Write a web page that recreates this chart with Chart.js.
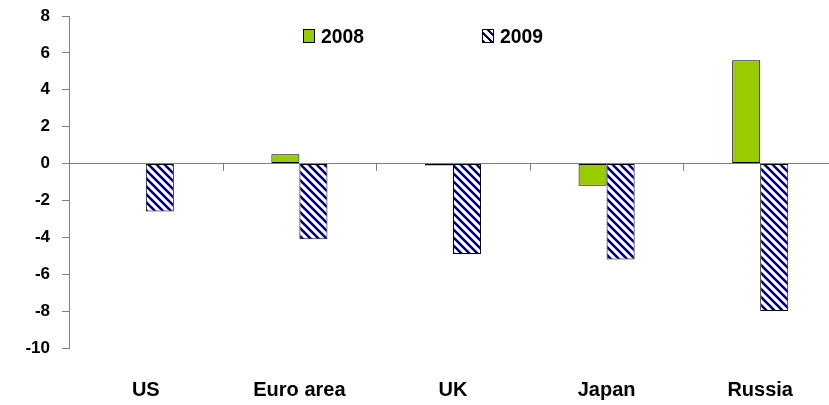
<!DOCTYPE html>
<html><head><meta charset="utf-8">
<script src="https://cdn.jsdelivr.net/npm/chart.js@4.4.0/dist/chart.umd.min.js"></script>
<style>
html,body{margin:0;padding:0;background:#fff;overflow:hidden;}
#wrap{position:relative;width:840px;height:405px;}
.item{position:absolute;font-family:'Liberation Sans',Arial,sans-serif;font-weight:bold;font-size:21px;color:#000;line-height:21px;white-space:nowrap;transform:scaleX(0.92);transform-origin:left center;}
.sw{position:absolute;width:12px;height:14px;border:1px solid #000;box-sizing:border-box;}
</style></head>
<body><div id="wrap"><canvas id="c" width="840" height="405" style="width:840px;height:405px;display:block"></canvas>
<div class="sw" style="left:303px;top:29px;background:#99CC00"></div>
<div class="item" style="left:321px;top:25px">2008</div>
<div class="sw" style="left:482px;top:29px;background:repeating-linear-gradient(45deg,#000080 0 2px,#fff 2px 5.6px)"></div>
<div class="item" style="left:500px;top:25px">2009</div>
</div>
<script>
const categories = ['US', 'Euro area', 'UK', 'Japan', 'Russia'];
const series2008 = [null, 0.5, -0.1, -1.2, 5.6];
const series2009 = [-2.6, -4.1, -4.9, -5.2, -8.0];
const yMin = -10, yMax = 8, yStep = 2;

const FONT = "'Liberation Sans',Arial,sans-serif";

function makePattern(ctx){
  const s = 8, c = document.createElement('canvas');
  c.width = s; c.height = s;
  const g = c.getContext('2d');
  g.fillStyle = '#fff'; g.fillRect(0,0,s,s);
  g.strokeStyle = '#000080'; g.lineWidth = 2.6;
  g.beginPath();
  for (const k of [-s, 0, s]) { g.moveTo(k-1, -1); g.lineTo(k+s+1, s+1); }
  g.stroke();
  return ctx.createPattern(c, 'repeat');
}

const sepTicks = {
  id: 'sepTicks',
  afterDraw(ch){
    const x = ch.scales.x, y = ch.scales.y, c = ch.ctx;
    const y0 = Math.round(y.getPixelForValue(0));
    c.save();
    c.strokeStyle = '#808080'; c.lineWidth = 1;
    c.beginPath();
    for (let i = 1; i < categories.length; i++) {
      const px = Math.round((x.getPixelForTick(i-1) + x.getPixelForTick(i)) / 2) + 0.5;
      c.moveTo(px, y0); c.lineTo(px, y0 + 7);
    }
    c.stroke();
    c.restore();
  }
};

const ctx = document.getElementById('c').getContext('2d');
const pattern = makePattern(ctx);

new Chart(ctx, {
  type: 'bar',
  data: {
    labels: categories,
    datasets: [
      { label: '2008', data: series2008, backgroundColor: '#99CC00', borderColor: '#000', borderWidth: 1, borderSkipped: false, categoryPercentage: 0.365, barPercentage: 1 },
      { label: '2009', data: series2009, backgroundColor: pattern, borderColor: '#000', borderWidth: 1, borderSkipped: false, categoryPercentage: 0.365, barPercentage: 1 }
    ]
  },
  options: {
    responsive: false,
    animation: false,
    devicePixelRatio: 1,
    layout: { padding: { top: 16, right: 3, left: 0, bottom: 0 } },
    plugins: { legend: { display: false }, tooltip: { enabled: false } },
    scales: {
      x: {
        grid: { display: false, drawTicks: false },
        border: { display: false },
        ticks: { padding: 30, color: '#000', font: { size: 20, weight: 'bold', family: FONT } },
        afterFit(s){ s.height = 57; s.paddingLeft = 0; s.paddingRight = 0; }
      },
      y: {
        min: yMin, max: yMax,
        ticks: { stepSize: yStep, padding: 12, color: '#000', font: { size: 17, weight: 'bold', family: FONT } },
        grid: {
          color: c => (c.tick && c.tick.value === 0) ? '#808080' : 'rgba(0,0,0,0)',
          tickColor: '#808080', tickLength: 7, lineWidth: 1
        },
        border: { display: true, color: '#808080', width: 1 },
        afterFit(s){ s.width = 69; s.paddingTop = 0; s.paddingBottom = 0; }
      }
    }
  },
  plugins: [sepTicks]
});
</script>
</body></html>
